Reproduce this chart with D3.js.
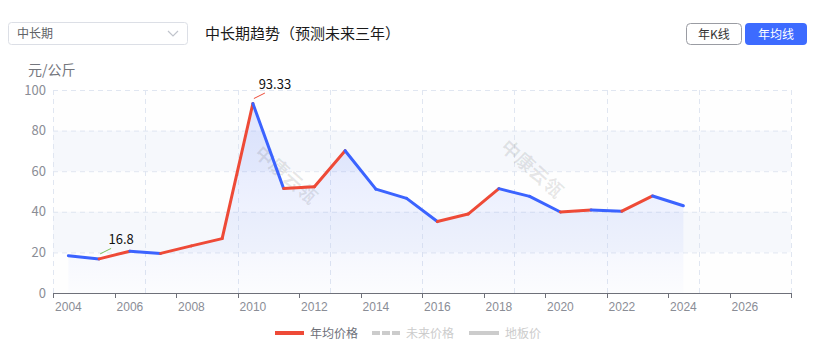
<!DOCTYPE html>
<html><head><meta charset="utf-8">
<script src="https://cdn.jsdelivr.net/npm/d3@7/dist/d3.min.js"></script>
<style>
html,body{margin:0;padding:0;background:#fff;}
svg{display:block;font-family:"Microsoft YaHei","Noto Sans CJK SC","Noto Sans",sans-serif;}
</style></head>
<body><svg id="c" width="829" height="355"></svg>
<script>
const categories = d3.range(2004, 2028).map(String);
const years = ["2004","2005","2006","2007","2008","2009","2010","2011","2012","2013","2014","2015","2016","2017","2018","2019","2020","2021","2022","2023","2024"];
const prices = [18.4,16.8,20.6,19.5,23.2,26.8,93.33,51.5,52.3,70.1,51.2,46.6,35.2,38.9,51.4,47.6,39.9,40.9,40.3,47.8,43.0];
const yTicks = [0,20,40,60,80,100];
const xLabels = ["2004","2006","2008","2010","2012","2014","2016","2018","2020","2022","2024","2026"];
const gridYears = ["2004","2007","2010","2013","2016","2019","2022","2025"];
const legendItems = ["年均价格","未来价格","地板价"];
const marks = [{year:"2010", value:93.33, color:"#ee4a37"},{year:"2005", value:16.8, color:"#7cc35a"}];

const svg = d3.select("#c");
const L=53, R=791, T=90, B=293;
const x = d3.scaleBand().domain(categories).range([L,R]).paddingInner(0).paddingOuter(0);
const y = d3.scaleLinear().domain([0,100]).range([B,T]);
const cx = d => x(d)+x.bandwidth()/2;
const UP="#ee4a37", DOWN="#3b63ff";

// header
svg.append("rect").attr("x",8.5).attr("y",22.5).attr("width",179).attr("height",22).attr("rx",3)
  .attr("fill","#fff").attr("stroke","#dcdfe6");
svg.append("text").attr("x",17).attr("y",38).attr("font-size",12).attr("fill","#606266").text("中长期");
svg.append("path").attr("d","M168,31 L173,36 L178,31").attr("fill","none").attr("stroke","#c0c4cc").attr("stroke-width",1.2);
svg.append("text").attr("x",205).attr("y",39).attr("font-size",15).attr("fill","#1a1a1a").text("中长期趋势（预测未来三年）");
svg.append("rect").attr("x",686.5).attr("y",23.5).attr("width",55).attr("height",21).attr("rx",4)
  .attr("fill","#fff").attr("stroke","#9a9ca3");
svg.append("text").attr("x",714).attr("y",38.5).attr("text-anchor","middle").attr("font-size",12).attr("fill","#333").text("年K线");
svg.append("rect").attr("x",745).attr("y",23).attr("width",62).attr("height",22).attr("rx",4).attr("fill","#3d6bff");
svg.append("text").attr("x",776).attr("y",38.5).attr("text-anchor","middle").attr("font-size",12).attr("fill","#fff").text("年均线");

// split areas
const bands = yTicks.slice(0,-1);
svg.append("g").selectAll("rect").data(bands).join("rect")
  .attr("x",L).attr("width",R-L)
  .attr("y",d=>y(d+20)).attr("height",d=>y(d)-y(d+20))
  .attr("fill",(d,i)=> i%2 ? "rgba(210,219,238,0.2)" : "rgba(250,250,250,0.2)");

// grid
svg.append("g").selectAll("line").data(yTicks.slice(1)).join("line")
  .attr("x1",L).attr("x2",R).attr("y1",d=>y(d)+0.5).attr("y2",d=>y(d)+0.5)
  .attr("stroke","#e0e6f1").attr("stroke-dasharray","5,4");
const gx = gridYears.map(g=>x(g)).concat([R]);
svg.append("g").selectAll("line").data(gx).join("line")
  .attr("x1",d=>Math.round(d)+0.5).attr("x2",d=>Math.round(d)+0.5).attr("y1",T).attr("y2",B)
  .attr("stroke","#e0e6f1").attr("stroke-dasharray","5,4");

// area
const defs = svg.append("defs");
const grad = defs.append("linearGradient").attr("id","ag").attr("gradientUnits","userSpaceOnUse")
  .attr("x1",0).attr("x2",0).attr("y1",y(93.33)).attr("y2",B);
grad.append("stop").attr("offset",0).attr("stop-color","rgba(59,99,255,0.16)");
grad.append("stop").attr("offset",1).attr("stop-color","rgba(59,99,255,0.01)");
const pts = years.map((yr,i)=>({yr, v:prices[i]}));
svg.append("path").datum(pts)
  .attr("d", d3.area().x(d=>cx(d.yr)).y0(B).y1(d=>y(d.v)))
  .attr("fill","url(#ag)");

// watermark
[[285,176],[531,170]].forEach(([wx,wy])=>{
  svg.append("text").attr("transform",`translate(${wx},${wy}) rotate(42)`)
    .attr("text-anchor","middle").attr("dominant-baseline","middle")
    .attr("font-size",19).attr("font-weight","bold").attr("fill","rgba(0,0,0,0.09)").text("中康云瓴");
});

// y axis labels
svg.append("g").selectAll("text").data(yTicks).join("text")
  .attr("x",46).attr("y",d=>y(d)).attr("dy","0.36em").attr("text-anchor","end")
  .attr("font-size",13).attr("fill","#8a8d96").text(d=>d);
svg.append("text").attr("x",28).attr("y",75).attr("font-size",14).attr("fill","#74767d").text("元/公斤");

// x axis
const xAxis = d3.axisBottom(x).tickValues(xLabels).tickSize(0).tickPadding(7);
const ga = svg.append("g").attr("transform",`translate(0,${B})`).call(xAxis);
ga.select(".domain").remove();
ga.selectAll("text").attr("font-size",12).attr("fill","#8a8d96").attr("font-family",null).attr("dy","0.9em");
svg.append("line").attr("x1",L).attr("x2",R).attr("y1",B+0.5).attr("y2",B+0.5).attr("stroke","#6e7079");
const tickX = xLabels.map(t=>x(t)).concat([R]);
svg.append("g").selectAll("line").data(tickX).join("line")
  .attr("x1",d=>Math.round(d)+0.5).attr("x2",d=>Math.round(d)+0.5).attr("y1",B).attr("y2",B+5)
  .attr("stroke","#6e7079");

// line segments
const segs = d3.pairs(pts);
svg.append("g").selectAll("line").data(segs).join("line")
  .attr("x1",d=>cx(d[0].yr)).attr("y1",d=>y(d[0].v))
  .attr("x2",d=>cx(d[1].yr)).attr("y2",d=>y(d[1].v))
  .attr("stroke",d=> d[1].v>=d[0].v ? UP : DOWN)
  .attr("stroke-width",3).attr("stroke-linecap","round");

// mark labels
marks.forEach(m=>{
  const px=cx(m.year), py=y(m.value);
  svg.append("line").attr("x1",px+1).attr("y1",py-5).attr("x2",px+12).attr("y2",py-10.5)
    .attr("stroke",m.color).attr("stroke-width",1);
  svg.append("text").attr("x",px+22).attr("y",py-15).attr("text-anchor","middle")
    .attr("font-size",13).attr("fill","#111").text(m.value);
});

// legend
const lg = svg.append("g");
lg.append("line").attr("x1",275).attr("x2",304).attr("y1",333).attr("y2",333).attr("stroke",UP).attr("stroke-width",4);
lg.append("text").attr("x",310).attr("y",337.5).attr("font-size",12).attr("fill","#6e7079").text(legendItems[0]);
lg.append("line").attr("x1",372).attr("x2",400).attr("y1",333).attr("y2",333).attr("stroke","#ccc").attr("stroke-width",4).attr("stroke-dasharray","8,2");
lg.append("text").attr("x",406).attr("y",337.5).attr("font-size",12).attr("fill","#ccc").text(legendItems[1]);
lg.append("line").attr("x1",469).attr("x2",499).attr("y1",333).attr("y2",333).attr("stroke","#ccc").attr("stroke-width",4);
lg.append("text").attr("x",505).attr("y",337.5).attr("font-size",12).attr("fill","#ccc").text(legendItems[2]);
</script></body></html>
